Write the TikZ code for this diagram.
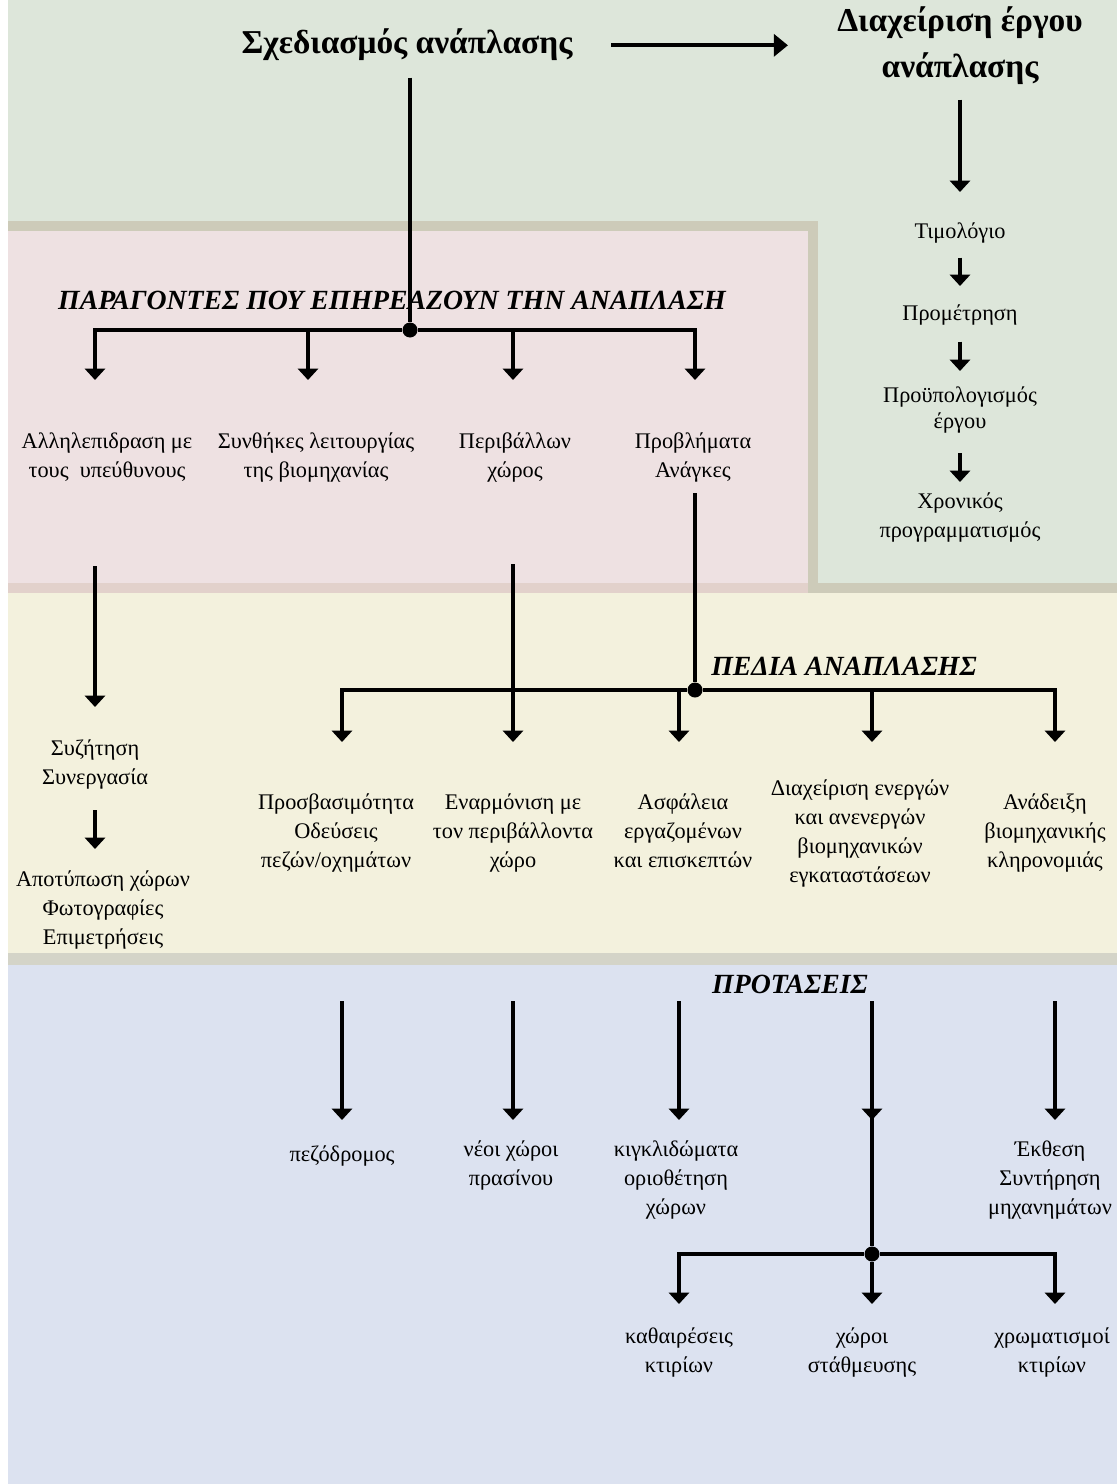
\documentclass[tikz,border=0pt]{standalone}
\usepackage{fontspec}
\setmainfont{Liberation Serif}
\usepackage{tikz}
\usetikzlibrary{arrows.meta}
\definecolor{planGreen}{RGB}{221,230,218}
\definecolor{factorPink}{RGB}{238,225,226}
\definecolor{fieldYellow}{RGB}{243,241,221}
\definecolor{proposalBlue}{RGB}{220,226,240}
\definecolor{bandTan}{RGB}{205,203,185}
\definecolor{bandPink}{RGB}{226,209,203}
\definecolor{bandGray}{RGB}{212,212,200}

\begin{document}
\begin{tikzpicture}[
  lbl/.style={align=center,inner sep=0pt,anchor=north,
              font=\fontsize{12.7}{16.5}\selectfont,
              execute at begin node=\strut,execute at end node=\strut},
  ttl/.style={lbl,font=\fontsize{19}{23.3}\selectfont\bfseries},
  sec/.style={inner sep=0pt,anchor=base,font=\fontsize{15.8}{19}\selectfont\bfseries\itshape},
  bar/.style={line width=1.8pt},
  arr/.style={bar,-{Triangle[width=11.5pt,length=6.5pt]}},
  big/.style={line width=2.2pt,-{Triangle[width=12.5pt,length=8pt]}},
  dot/.style={circle,fill,inner sep=0pt,minimum size=0.3cm}
]
  \useasboundingbox (0,0) rectangle (22.34,-29.68);
  \fill[white] (0,0) rectangle (22.34,-29.68);
  \fill[planGreen] (0.16,0) rectangle (22.34,-11.86);
  \fill[bandTan] (0.16,-11.66) rectangle (22.34,-11.86);
  \fill[bandTan] (0.16,-4.42) rectangle (16.36,-11.86);
  \fill[factorPink] (0.16,-4.62) rectangle (16.16,-11.66);
  \fill[bandPink] (0.16,-11.66) rectangle (16.16,-11.86);
  \fill[fieldYellow] (0.16,-11.86) rectangle (22.34,-19.06);
  \fill[bandGray] (0.16,-19.06) rectangle (22.34,-19.30);
  \fill[proposalBlue] (0.16,-19.30) rectangle (22.34,-29.68);

  \coordinate (colA) at (1.90,0);
  \coordinate (colB) at (6.16,0);
  \coordinate (colC) at (6.84,0);
  \coordinate (colD) at (10.26,0);
  \coordinate (colE) at (13.58,0);
  \coordinate (colH) at (21.10,0);

  \node[ttl](plan) at (8.14,-0.49) {Σχεδιασμός ανάπλασης};
  \node[ttl](mgmt) at (19.20,-0.13) {Διαχείριση έργου\\[2.8pt]ανάπλασης};
  \node[lbl](tim) at (19.20,-4.35) {Τιμολόγιο};
  \node[lbl](prom) at (19.20,-5.99) {Προμέτρηση};
  \node[lbl](budget) at (19.20,-7.73) {Προϋπολογισμός\\[-2pt]έργου};
  \node[lbl](sched) at (19.20,-9.85) {Χρονικός\\προγραμματισμός};

  \node[sec](factors) at (7.84,-6.18) {ΠΑΡΑΓΟΝΤΕΣ ΠΟΥ ΕΠΗΡΕΑΖΟΥΝ ΤΗΝ ΑΝΑΠΛΑΣΗ};
  \node[sec](fields) at (16.88,-13.50) {ΠΕΔΙΑ ΑΝΑΠΛΑΣΗΣ};
  \node[sec](props) at (15.80,-19.86) {ΠΡΟΤΑΣΕΙΣ};

  \node[dot](j1) at (8.20,-6.60) {};
  \node[dot](j2) at (13.90,-13.80) {};
  \node[dot](j3) at (17.44,-25.08) {};

  \node[lbl](f1) at (2.14,-8.65) {Αλληλεπιδραση με\\τους~ υπεύθυνους};
  \node[lbl](f2) at (6.32,-8.65) {Συνθήκες λειτουργίας\\της βιομηχανίας};
  \node[lbl](f3) at (10.30,-8.65) {Περιβάλλων\\χώρος};
  \node[lbl](f4) at (13.86,-8.65) {Προβλήματα\\Ανάγκες};

  \node[lbl](talk) at (1.90,-14.79) {Συζήτηση\\Συνεργασία};
  \node[lbl](survey) at (2.06,-17.41) {Αποτύπωση χώρων\\Φωτογραφίες\\Επιμετρήσεις};

  \node[lbl](p1) at (6.72,-15.87) {Προσβασιμότητα\\Οδεύσεις\\πεζών/οχημάτων};
  \node[lbl](p2) at (10.26,-15.87) {Εναρμόνιση με\\τον περιβάλλοντα\\χώρο};
  \node[lbl](p3) at (13.66,-15.87) {Ασφάλεια\\εργαζομένων\\και επισκεπτών};
  \node[lbl](p4) at (17.20,-15.59) {Διαχείριση ενεργών\\και ανενεργών\\βιομηχανικών\\εγκαταστάσεων};
  \node[lbl](p5) at (20.90,-15.87) {Ανάδειξη\\βιομηχανικής\\κληρονομιάς};

  \node[lbl](q1) at (6.84,-22.81) {πεζόδρομος};
  \node[lbl](q2) at (10.22,-22.81) {νέοι χώροι\\πρασίνου};
  \node[lbl](q3) at (13.52,-22.81) {κιγκλιδώματα\\οριοθέτηση\\χώρων};
  \node[lbl](q4) at (21.00,-22.81) {Έκθεση\\Συντήρηση\\μηχανημάτων};

  \node[lbl](r1) at (13.58,-26.55) {καθαιρέσεις\\κτιρίων};
  \node[lbl](r2) at (17.24,-26.55) {χώροι\\στάθμευσης};
  \node[lbl](r3) at (21.04,-26.55) {χρωματισμοί\\κτιρίων};

  \draw[big,shorten <=0.77cm,shorten >=0.98cm](plan.east)--(plan.east -| mgmt.west);
  \draw[bar,shorten <=0.23cm](j1 |- plan.south)--(j1);
  \draw[arr,shorten >=1.05cm](j1)-|(colA |- f1.north);
  \draw[arr,shorten >=1.05cm](j1)-|(colB |- f2.north);
  \draw[arr,shorten >=1.05cm](j1)-|(colD |- f3.north);
  \draw[arr,shorten >=1.05cm](j1)-|(j2 |- f4.north);

  \draw[arr,shorten <=0.19cm,shorten >=0.51cm](mgmt.south)--(tim.north);
  \draw[arr,shorten <=0.21cm,shorten >=0.27cm](tim.south)--(prom.north);
  \draw[arr,shorten <=0.25cm,shorten >=0.31cm](prom.south)--(budget.north);
  \draw[arr,shorten <=0.32cm,shorten >=0.21cm](budget.south)--(sched.north);

  \draw[arr,shorten <=1.59cm,shorten >=0.65cm](colA |- f1.south)--(talk.north);
  \draw[arr,shorten <=0.33cm,shorten >=0.43cm](talk.south)--(talk |- survey.north);
  \draw[arr,shorten <=1.55cm,shorten >=1.03cm](colD |- f3.south)--(p2.north);
  \draw[bar,shorten <=0.13cm](j2 |- f4.south)--(j2);
  \draw[arr,shorten >=1.03cm](j2)-|(colC |- p1.north);
  \draw[arr,shorten >=1.03cm](j2)-|(colE |- p3.north);
  \draw[arr,shorten >=0.75cm](j2)-|(j3 |- p4.north);
  \draw[arr,shorten >=1.03cm](j2)-|(colH |- p5.north);

  \draw[arr,shorten <=2.49cm,shorten >=0.41cm](colC |- p1.south)--(q1.north);
  \draw[arr,shorten <=2.49cm,shorten >=0.41cm](p2.south)--(colD |- q2.north);
  \draw[arr,shorten <=2.49cm,shorten >=0.41cm](colE |- p3.south)--(colE |- q3.north);
  \draw[arr,shorten <=2.49cm,shorten >=0.41cm](colH |- p5.south)--(colH |- q4.north);
  \draw[bar,shorten <=2.19cm](j3 |- p4.south)--(j3);
  \draw[arr,shorten <=2.19cm,shorten >=0.41cm](j3 |- p4.south)--(j3 |- q1.north);

  \draw[arr,shorten >=0.47cm](j3)-|(r1.north);
  \draw[arr,shorten >=0.47cm](j3)--(j3 |- r2.north);
  \draw[arr,shorten >=0.47cm](j3)-|(colH |- r3.north);
\end{tikzpicture}
\end{document}
